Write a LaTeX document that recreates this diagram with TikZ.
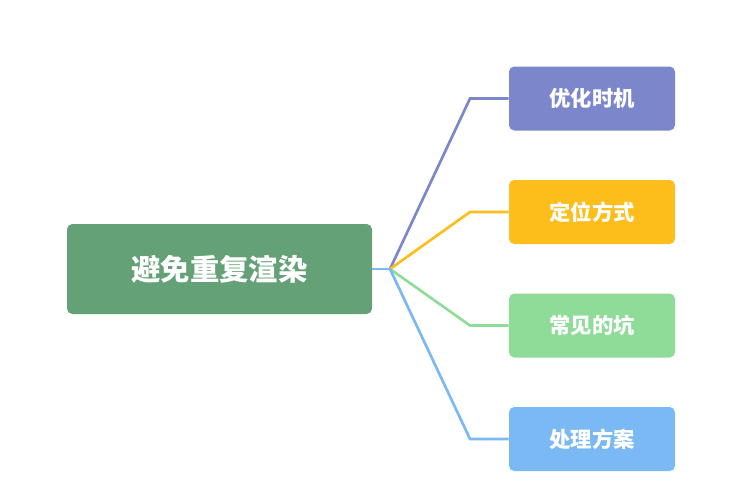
\documentclass[tikz,border=0pt]{standalone}
\usepackage{fontspec}
\newfontfamily\cjk{Noto Sans CJK SC}
\usetikzlibrary{positioning}
\definecolor{rootgreen}{HTML}{64A176}
\definecolor{cpurple}{HTML}{7B86CB}
\definecolor{cyellow}{HTML}{FDBE1C}
\definecolor{cgreen}{HTML}{8FDB98}
\definecolor{cblue}{HTML}{7BB9F4}
\tikzset{
  root/.style={fill=rootgreen, rounded corners=4pt, minimum width=228.75pt, minimum height=67.5pt, text=white, font=\cjk\bfseries\fontsize{22}{24}\selectfont},
  leaf/.style={fill=#1, rounded corners=4pt, minimum width=124.5pt, minimum height=48pt, text=white, font=\cjk\bfseries\fontsize{16}{18}\selectfont},
  link/.style={draw=#1, line width=2pt}
}
\begin{document}
\begin{tikzpicture}[x=0.75pt,y=-0.75pt]
\useasboundingbox (0,0) rectangle (743,500);

% Root
\node[root] (root) at (219.5,269) {避免重复渲染};
\coordinate (fork) at (390,269);

% Branches
\node[leaf=cpurple] (timing) at (592,98.5) {优化时机};
\node[leaf=cyellow] (locate) at (592,212) {定位方式};
\node[leaf=cgreen] (pits) at (592,325.5) {常见的坑};
\node[leaf=cblue] (plan) at (592,439) {处理方案};

\draw[link=cblue] (root.east) -- (fork);
\draw[link=cpurple] (fork) -- (470,98.5) -- (timing.west);
\draw[link=cyellow] (fork) -- (470,212) -- (locate.west);
\draw[link=cgreen] (fork) -- (470,325.5) -- (pits.west);
\draw[link=cblue] (fork) -- (470,439) -- (plan.west);
\end{tikzpicture}
\end{document}
